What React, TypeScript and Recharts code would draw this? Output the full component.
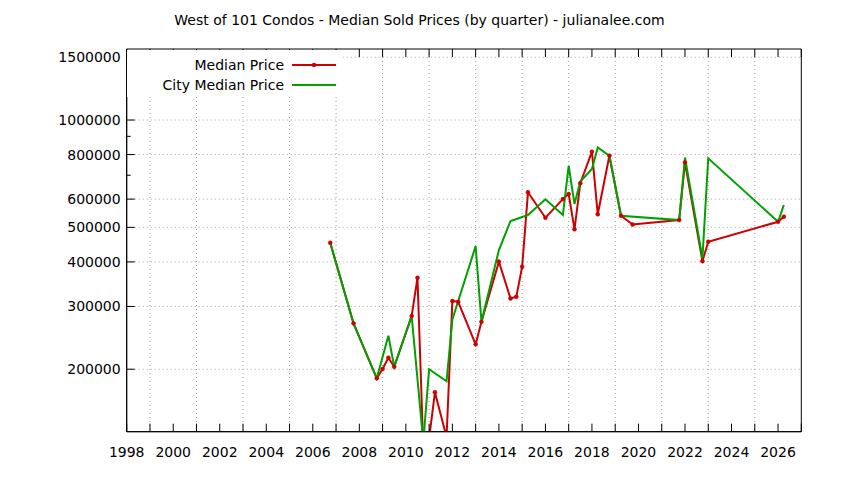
import React from 'react';
import { LineChart, Line, XAxis, YAxis, CartesianGrid, Legend, ReferenceArea, ReferenceLine } from 'recharts';

const FONT = '"DejaVu Sans", Verdana, sans-serif';
const RED = '#cc0000';
const GREEN = '#00a000';
const GRID = '#a0a0a0';
const TIC = 8;

// quarters as fractional years
const MEDIAN_DATES = [
  2006.75, 2007.75, 2008.75, 2009.0, 2009.25, 2009.5, 2010.25, 2010.5, 2010.75, 2011.0,
  2011.25, 2011.75, 2012.0, 2012.25, 2013.0, 2013.25, 2014.0, 2014.5, 2014.75, 2015.0,
  2015.25, 2016.0, 2016.75, 2017.0, 2017.25, 2017.5, 2018.0, 2018.25, 2018.75, 2019.25,
  2019.75, 2021.75, 2022.0, 2022.75, 2023.0, 2026.0, 2026.25,
];
const MEDIAN_PRICES = [
  452700, 269000, 188600, 200200, 215400, 203200, 282000, 361000, 120000, 128000,
  172300, 129000, 310700, 309000, 234900, 271800, 400500, 316000, 319400, 387700,
  627000, 532000, 600000, 620000, 493600, 665000, 815000, 544000, 794000, 539000,
  509000, 524000, 760000, 402000, 455600, 518400, 535500,
];

const CITY_DATES = [
  2006.75, 2007.75, 2008.75, 2009.25, 2009.5, 2010.25, 2010.75, 2011.0, 2011.75, 2012.0,
  2013.0, 2013.25, 2014.0, 2014.5, 2015.25, 2016.0, 2016.75, 2017.0, 2017.25, 2017.5,
  2018.0, 2018.25, 2018.75, 2019.25, 2021.75, 2022.0, 2022.75, 2023.0, 2026.0, 2026.25,
];
const CITY_PRICES = [
  452700, 269000, 188600, 248300, 203200, 282000, 125000, 200000, 185000, 276000,
  443000, 271800, 431800, 521000, 541500, 599000, 541500, 744000, 581000, 672000,
  729000, 838000, 794000, 539000, 524000, 785000, 410000, 781000, 518400, 577600,
];

const YEAR_TICKS = [
  1998, 1999, 2000, 2001, 2002, 2003, 2004, 2005, 2006, 2007, 2008, 2009, 2010, 2011, 2012,
  2013, 2014, 2015, 2016, 2017, 2018, 2019, 2020, 2021, 2022, 2023, 2024, 2025, 2026, 2027,
];
const YEAR_GRID = [1999, 2001, 2003, 2005, 2007, 2009, 2011, 2013, 2015, 2017, 2019, 2021, 2023, 2025];
const PRICE_TICKS = [200000, 300000, 400000, 500000, 600000, 700000, 800000, 900000, 1000000, 1500000];
const PRICE_LABELS = [200000, 300000, 400000, 500000, 600000, 800000, 1000000, 1500000];
const KEY_ORDER = ['Median Price', 'City Median Price'];
const X_DOMAIN = [1998, 2027];
const Y_DOMAIN = [133600, 1582000];

const medianData = MEDIAN_DATES.map((date, i) => ({ date, price: MEDIAN_PRICES[i] }));
const cityData = CITY_DATES.map((date, i) => ({ date, price: CITY_PRICES[i] }));

const BottomTick = ({ x, y, payload }: any) => (
  <g>
    <line x1={x} x2={x} y1={y} y2={y - TIC} stroke="#000" />
    {payload.value % 2 === 0 && (
      <text x={x} y={y + 25} textAnchor="middle" fontSize={14} fontFamily={FONT} fill="#000">
        {payload.value}
      </text>
    )}
  </g>
);

// mirrored tic on the top border, hung from the reference line's upper end
const TopTickShape = ({ x1, y1, x2, y2 }: any) => {
  const top = Math.min(y1, y2);
  return <line x1={x1} x2={x2} y1={top} y2={top + TIC} stroke="#000" />;
};

const LeftTick = ({ x, y, payload }: any) => {
  const labelled = PRICE_LABELS.includes(payload.value);
  return (
    <g>
      <line x1={x} x2={x + (labelled ? TIC : TIC / 2)} y1={y} y2={y} stroke="#000" />
      {labelled && (
        <text x={x - 6} y={y} dy="0.36em" textAnchor="end" fontSize={14} fontFamily={FONT} fill="#000">
          {payload.value}
        </text>
      )}
    </g>
  );
};

const RightTick = ({ x, y, payload }: any) => {
  const len = PRICE_LABELS.includes(payload.value) ? TIC : TIC / 2;
  return <line x1={x - len} x2={x} y1={y} y2={y} stroke="#000" />;
};

const Key = ({ payload }: any) => {
  const items = [...(payload || [])].sort(
    (a: any, b: any) => KEY_ORDER.indexOf(a.value) - KEY_ORDER.indexOf(b.value),
  );
  return (
    <div style={{ position: 'relative', width: 216, height: 47, background: '#fff', fontFamily: FONT, fontSize: 14 }}>
      {items.map((p: any, i: number) => (
        <div key={p.value} style={{ position: 'absolute', left: 0, top: 5 + i * 20, width: 216, height: 20 }}>
          <div style={{ position: 'absolute', left: 0, width: 157, textAlign: 'right', lineHeight: '20px', color: '#000' }}>
            {p.value}
          </div>
          <svg width={44} height={20} style={{ position: 'absolute', left: 165, top: 0 }}>
            <line x1={0} x2={44} y1={10} y2={10} stroke={p.color} strokeWidth={2} />
            {p.value === 'Median Price' && <circle cx={22} cy={10} r={2.2} fill={p.color} />}
          </svg>
        </div>
      ))}
    </div>
  );
};

export default function App() {
  return (
    <div style={{ position: 'absolute', left: 0, top: 0, width: 844, height: 480, background: '#fff' }}>
      <div
        style={{
          position: 'absolute', left: 0, top: 10, width: 839, textAlign: 'center',
          fontFamily: FONT, fontSize: 14, lineHeight: '20px', color: '#000',
        }}
      >
        West of 101 Condos - Median Sold Prices (by quarter) - julianalee.com
      </div>
      <LineChart width={844} height={480} margin={{ top: 49, right: 42.7, bottom: 18.3, left: 66.7 }}>
        <CartesianGrid
          horizontal={false}
          verticalValues={YEAR_GRID}
          stroke={GRID}
          strokeDasharray="1 3"
          fill="none"
        />
        {PRICE_LABELS.map((v) => (
          <ReferenceLine key={v} y={v} stroke={GRID} strokeDasharray="1 3" />
        ))}
        {YEAR_TICKS.map((yr) => (
          <ReferenceLine key={`t${yr}`} x={yr} shape={<TopTickShape />} />
        ))}
        <XAxis
          dataKey="date"
          type="number"
          domain={X_DOMAIN}
          allowDataOverflow
          ticks={YEAR_TICKS}
          interval={0}
          height={30}
          tickSize={0}
          tickMargin={0}
          tickLine={false}
          axisLine={{ stroke: '#000' }}
          tick={<BottomTick />}
        />
        <YAxis
          type="number"
          scale="log"
          domain={Y_DOMAIN}
          allowDataOverflow
          ticks={PRICE_TICKS}
          interval={0}
          width={60}
          tickSize={0}
          tickMargin={0}
          tickLine={false}
          axisLine={{ stroke: '#000' }}
          tick={<LeftTick />}
        />
        <YAxis
          yAxisId="right"
          orientation="right"
          type="number"
          scale="log"
          domain={Y_DOMAIN}
          allowDataOverflow
          ticks={PRICE_TICKS}
          interval={0}
          width={0}
          tickSize={0}
          tickMargin={0}
          tickLine={false}
          axisLine={{ stroke: '#000' }}
          tick={<RightTick />}
        />
        <Legend
          layout="horizontal"
          verticalAlign="middle"
          align="center"
          wrapperStyle={{ left: 127, top: 50, width: 216, height: 47 }}
          content={<Key />}
        />
        <Line
          data={medianData}
          dataKey="price"
          name="Median Price"
          stroke={RED}
          strokeWidth={2}
          dot={{ r: 2, fill: RED, stroke: RED, strokeWidth: 0.5 }}
          activeDot={false}
          isAnimationActive={false}
        />
        <Line
          data={cityData}
          dataKey="price"
          name="City Median Price"
          stroke={GREEN}
          strokeWidth={2}
          dot={false}
          activeDot={false}
          isAnimationActive={false}
        />
        <ReferenceArea
          x1={X_DOMAIN[0]}
          x2={X_DOMAIN[1]}
          y1={Y_DOMAIN[0]}
          y2={Y_DOMAIN[1]}
          fill="none"
          fillOpacity={0}
          stroke="#000"
          strokeWidth={1}
          ifOverflow="visible"
        />
      </LineChart>
    </div>
  );
}
